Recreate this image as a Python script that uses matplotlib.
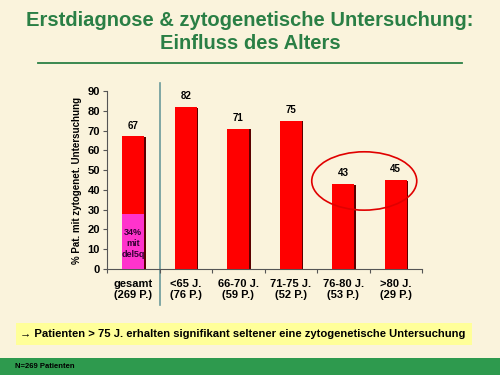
import matplotlib
matplotlib.use('Agg')
import matplotlib.pyplot as plt
import matplotlib.patches as patches

# Data
categories = ['gesamt\n(269 P.)', '<65 J.\n(76 P.)', '66-70 J.\n(59 P.)',
              '71-75 J.\n(52 P.)', '76-80 J.\n(53 P.)', '>80 J.\n(29 P.)']
values = [67, 82, 71, 75, 43, 45]
del5q_part = 28  # magenta part of the "gesamt" bar
yticks = list(range(0, 100, 10))

BG = '#FAF3DC'
GREEN = '#2A7F45'
plt.rcParams['font.family'] = ['Liberation Sans', 'DejaVu Sans']

fig = plt.figure(figsize=(5, 3.75), dpi=100)
fig.patch.set_facecolor(BG)

# title
fig.text(0.5, 0.945, 'Erstdiagnose & zytogenetische Untersuchung:', ha='center', va='center',
         fontsize=14.5, color=GREEN, fontweight='bold')
fig.text(0.5, 0.885, 'Einfluss des Alters', ha='center', va='center',
         fontsize=14.5, color=GREEN, fontweight='bold')
fig.add_artist(plt.Line2D([0.076, 0.924], [0.832, 0.832], color=GREEN, lw=1.3))

ax = fig.add_axes([0.214, 0.2827, 0.63, 0.4747])
ax.set_facecolor(BG)
ax.patch.set_alpha(0)

x = list(range(len(values)))
w = 0.42
# shadows
ax.bar([i + 0.03 for i in x], [v - 0.4 for v in values], width=w, color='#5a0000', zorder=2)
ax.bar(x, values, width=w, color='#FF0000', zorder=3)
ax.bar(0, del5q_part, width=w, color='#FF33CC', zorder=4)
ax.text(0, del5q_part / 2 - 1, '34%\nmit\ndel5q', ha='center', va='center', fontsize=6.5,
        fontweight='bold', color='#330033', zorder=5, linespacing=1.3)

for i, v in zip(x, values):
    ax.text(i, v + 3, str(v), ha='center', va='bottom', fontsize=7, fontweight='bold')

ax.set_xlim(-0.5, len(values) - 0.5)
ax.set_ylim(0, 90)
ax.set_yticks(yticks)
ax.set_yticklabels([str(t) for t in yticks], fontsize=8, fontweight='bold')
ax.set_xticks([i - 0.5 for i in range(len(values) + 1)])
ax.set_xticklabels([])
ax.tick_params(axis='x', length=3, direction='out', color='#555555')
ax.tick_params(axis='y', length=3, direction='out', color='#555555', pad=2)
for i, c in enumerate(categories):
    ax.text(i, -5, c, ha='center', va='top', fontsize=8, fontweight='bold', linespacing=1.1)
for s in ['top', 'right']:
    ax.spines[s].set_visible(False)
ax.spines['left'].set_color('#555555')
ax.spines['bottom'].set_color('#555555')
ax.set_ylabel('% Pat. mit zytogenet. Untersuchung', fontsize=7, fontweight='bold', labelpad=4)

# divider line between total and age groups
ax.plot([0.5, 0.5], [94, -18], color='#6A9A9A', lw=1.2, clip_on=False, zorder=1)

# ellipse around the older patients
ell = patches.Ellipse((4.4, 44.5), 2.0, 29.5, fill=False, edgecolor='#E00000', lw=1.2,
                      zorder=6, clip_on=False)
ax.add_patch(ell)

# yellow note
fig.add_artist(patches.Rectangle((0.032, 0.08), 0.912, 0.059, transform=fig.transFigure,
                                 facecolor='#FFFF99', edgecolor='none'))
fig.text(0.04, 0.109, '\u2192 Patienten > 75 J. erhalten signifikant seltener eine zytogenetische Untersuchung',
         ha='left', va='center', fontsize=8.1, fontweight='bold')

# footer band
fig.add_artist(patches.Rectangle((0, 0), 1, 0.045, transform=fig.transFigure,
                                 facecolor='#2E9A4E', edgecolor='none'))
fig.text(0.03, 0.022, 'N=269 Patienten', ha='left', va='center', fontsize=5.5, fontweight='bold')

fig.savefig('out.png', dpi=100, facecolor=BG)
